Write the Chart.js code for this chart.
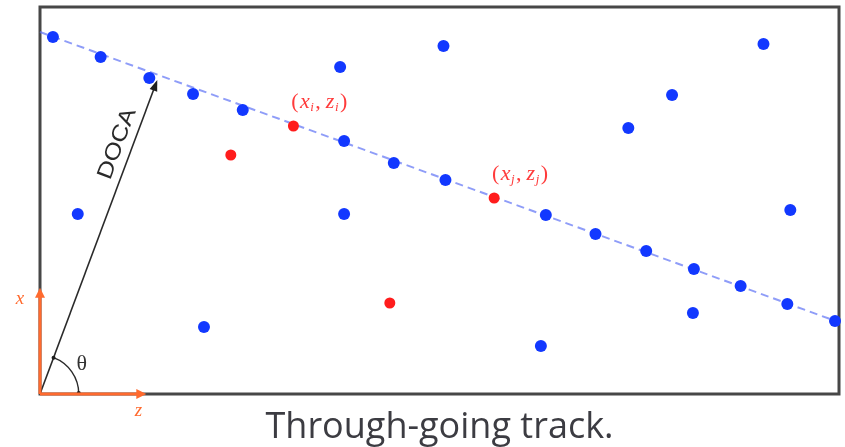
<!DOCTYPE html>
<html>
<head>
<meta charset="utf-8">
<script src="https://cdn.jsdelivr.net/npm/chart.js@4.4.1/dist/chart.umd.min.js"></script>
<style>
  html, body { margin: 0; padding: 0; background: #ffffff; }
  #wrap { width: 845px; height: 447px; position: relative; }
</style>
</head>
<body>
<div id="wrap"><canvas id="c" width="845" height="447"></canvas></div>
<script>
// Hits in the detector plane: z runs horizontally, x vertically (arbitrary units)
const trackHitsZ = [1.3, 6.1, 11.0, 15.4, 20.4, 30.6, 35.6, 40.8, 50.9, 55.9, 61.0, 65.8, 70.5, 75.2, 80.0];
const trackHitsX = [35.7, 33.7, 31.6, 30.0, 28.4, 25.3, 23.1, 21.4, 17.9, 16.0, 14.3, 12.5, 10.8, 9.0, 7.3];
const noiseHitsZ = [30.2, 40.6, 72.8, 63.6, 59.2, 75.5, 3.8, 30.6, 16.5, 65.7, 50.4];
const noiseHitsX = [32.7, 34.8, 35.0, 29.9, 26.6, 18.4, 18.0, 18.0, 6.7, 8.1, 4.8];
// the hit pair (x_i, z_i), (x_j, z_j) sitting on the track
const pairHitsZ = [25.5, 45.7];
const pairHitsX = [26.8, 19.6];
const pairIndex = ['i', 'j'];
// other highlighted hits off the track
const strayHitsZ = [19.2, 35.2];
const strayHitsX = [23.9, 9.1];
// fitted straight track
const trackLineZ = [0, 80.5];
const trackLineX = [36.2, 7.14];
// distance of closest approach: from origin to this point (z, x)
const docaZ = [0, 11.8];
const docaX = [0, 31.4];
const caption = 'Through-going track.';

const toPoints = (zs, xs) => zs.map((z, i) => ({ x: z, y: xs[i] }));

const ORANGE = '#ff6a2e';
const FRAME = '#474747';

function arrowHead(ctx, x0, y0, x1, y1, len, half, color) {
  const a = Math.atan2(y1 - y0, x1 - x0);
  ctx.save();
  ctx.fillStyle = color;
  ctx.beginPath();
  ctx.moveTo(x1, y1);
  ctx.lineTo(x1 - len * Math.cos(a) + half * Math.sin(a), y1 - len * Math.sin(a) - half * Math.cos(a));
  ctx.lineTo(x1 - len * Math.cos(a) - half * Math.sin(a), y1 - len * Math.sin(a) + half * Math.cos(a));
  ctx.closePath();
  ctx.fill();
  ctx.restore();
}

// "(x_k, z_k)" with italic symbols and small subscripts, centred on (cx, cy)
function drawCoordLabel(ctx, cx, cy, sub) {
  const size = 22;
  const fam = 'px "Liberation Serif", "DejaVu Serif", serif';
  const up = size + fam;
  const it = 'italic ' + size + fam;
  const sm = 'italic ' + Math.round(size * 0.58) + fam;
  // [text, font, baseline shift, extra space after]
  const parts = [
    ['(', up, 0, 1.5], ['x', it, 0, 0.5], [sub, sm, 5, 1.5], [',', up, 0, 5],
    ['z', it, 0, 0.5], [sub, sm, 5, 1.5], [')', up, 0, 0]
  ];
  let w = 0;
  parts.forEach(p => { ctx.font = p[1]; w += ctx.measureText(p[0]).width + p[3]; });
  let x = cx - w / 2;
  ctx.textBaseline = 'middle';
  ctx.textAlign = 'left';
  parts.forEach(p => {
    ctx.font = p[1];
    ctx.fillText(p[0], x, cy + p[2]);
    x += ctx.measureText(p[0]).width + p[3];
  });
}

const sketchPlugin = {
  id: 'sketch',
  beforeDatasetsDraw(chart) {
    const { ctx, chartArea: a } = chart;
    ctx.save();
    ctx.strokeStyle = FRAME;
    ctx.lineWidth = 3;
    ctx.strokeRect(a.left, a.top, a.right - a.left, a.bottom - a.top);
    ctx.restore();
  },
  afterDatasetsDraw(chart) {
    const { ctx } = chart;
    const sx = chart.scales.x, sy = chart.scales.y;
    const px = v => sx.getPixelForValue(v);
    const py = v => sy.getPixelForValue(v);
    const ox = px(0), oy = py(0);
    const unit = px(1) - px(0);

    // DOCA arrow from the origin to the track
    const tx = px(docaZ[1]), ty = py(docaX[1]);
    const ang = Math.atan2(ty - oy, tx - ox);
    ctx.save();
    ctx.strokeStyle = '#2a2a2a';
    ctx.lineWidth = 1.6;
    ctx.beginPath();
    ctx.moveTo(px(docaZ[0]), py(docaX[0]));
    ctx.lineTo(tx - 8 * Math.cos(ang), ty - 8 * Math.sin(ang));
    ctx.stroke();
    arrowHead(ctx, ox, oy, tx, ty, 11, 4, '#1e1e1e');

    // DOCA text running along the arrow, on its left side
    const t = 0.78;
    const mx = ox + (tx - ox) * t, my = oy + (ty - oy) * t;
    const nx = Math.sin(ang), ny = -Math.cos(ang);
    ctx.save();
    ctx.translate(mx + 15 * nx, my + 15 * ny);
    ctx.rotate(ang);
    ctx.scale(1.12, 0.95);
    ctx.fillStyle = '#2a2a2a';
    ctx.font = '23px "Liberation Sans", Arial, sans-serif';
    ctx.textAlign = 'center';
    ctx.textBaseline = 'middle';
    ctx.fillText('DOCA', 0, 0);
    ctx.restore();

    // theta arc between z axis and the DOCA direction
    const r = 3.9 * unit;
    ctx.strokeStyle = '#2a2a2a';
    ctx.lineWidth = 1.4;
    ctx.beginPath();
    ctx.arc(ox, oy, r, ang, 0);
    ctx.stroke();
    ctx.fillStyle = '#1e1e1e';
    ctx.beginPath(); ctx.arc(ox + r, oy - 1, 2, 0, Math.PI * 2); ctx.fill();
    ctx.beginPath(); ctx.arc(ox + r * Math.cos(ang), oy + r * Math.sin(ang), 2, 0, Math.PI * 2); ctx.fill();
    ctx.font = '22px "Liberation Serif", "DejaVu Serif", serif';
    ctx.textAlign = 'center';
    ctx.textBaseline = 'middle';
    ctx.fillStyle = '#333';
    ctx.fillText('\u03B8', ox + 4.2 * unit, oy - 3.0 * unit);

    // local x / z axes at the origin
    const axLen = 10.7 * unit;
    ctx.strokeStyle = ORANGE;
    ctx.lineWidth = 3;
    ctx.beginPath();
    ctx.moveTo(ox, oy); ctx.lineTo(ox, oy - axLen + 6);
    ctx.moveTo(ox, oy); ctx.lineTo(ox + axLen - 6, oy);
    ctx.stroke();
    arrowHead(ctx, ox, oy, ox, oy - axLen, 10, 5, ORANGE);
    arrowHead(ctx, ox, oy, ox + axLen, oy, 10, 5, ORANGE);
    ctx.fillStyle = ORANGE;
    ctx.font = 'italic 19px "Liberation Serif", "DejaVu Serif", serif';
    ctx.textAlign = 'center';
    ctx.textBaseline = 'middle';
    ctx.fillText('x', ox - 20, oy - 95);
    ctx.fillText('z', ox + axLen - 8, oy + 17);

    // coordinate labels next to the hit pair
    ctx.fillStyle = '#ff3b3b';
    pairHitsZ.forEach((z, i) => {
      drawCoordLabel(ctx, px(z) + 2.6 * unit, py(pairHitsX[i]) - 2.4 * unit, pairIndex[i]);
    });

    // caption under the frame
    ctx.fillStyle = '#3c3c42';
    ctx.font = '36px "Open Sans", "Noto Sans", sans-serif';
    ctx.textAlign = 'center';
    ctx.textBaseline = 'alphabetic';
    const a = chart.chartArea;
    ctx.fillText(caption, (a.left + a.right) / 2, a.bottom + 44);
    ctx.restore();
  }
};

new Chart(document.getElementById('c'), {
  type: 'scatter',
  data: {
    datasets: [
      {
        label: 'track',
        data: toPoints(trackLineZ, trackLineX),
        showLine: true,
        borderColor: 'rgba(95,115,245,0.7)',
        borderWidth: 2,
        borderDash: [8, 5],
        pointRadius: 0,
        clip: false,
        order: 3
      },
      {
        label: 'hits',
        data: toPoints(trackHitsZ.concat(noiseHitsZ), trackHitsX.concat(noiseHitsX)),
        backgroundColor: '#1238ff',
        borderWidth: 0,
        pointRadius: 6,
        clip: false,
        order: 2
      },
      {
        label: 'pair',
        data: toPoints(pairHitsZ.concat(strayHitsZ), pairHitsX.concat(strayHitsX)),
        backgroundColor: '#ff1c1c',
        borderWidth: 0,
        pointRadius: 5.5,
        clip: false,
        order: 1
      }
    ]
  },
  options: {
    responsive: false,
    animation: false,
    devicePixelRatio: 1,
    layout: { padding: { left: 40, right: 1, top: 7, bottom: 53 } },
    scales: {
      x: { type: 'linear', min: 0, max: 80.4, display: false },
      y: { type: 'linear', min: 0, max: 38.7, display: false }
    },
    plugins: {
      legend: { display: false },
      tooltip: { enabled: false }
    }
  },
  plugins: [sketchPlugin]
});
</script>
</body>
</html>
